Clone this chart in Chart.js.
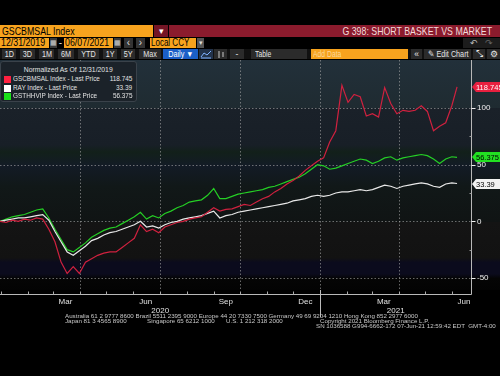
<!DOCTYPE html>
<html lang="en">
  <head>
    <meta charset="UTF-8" />
    <meta name="viewport" content="width=device-width, initial-scale=1.0" />
    <title>G 398: SHORT BASKET VS MARKET</title>
    <script src="https://cdn.jsdelivr.net/npm/chart.js@4.4.1/dist/chart.umd.min.js"></script>
    <style>
      body {
        margin: 0;
        width: 500px;
        height: 376px;
        overflow: hidden;
        background-color: #000;
        font-family: "Liberation Sans", Arial, sans-serif;
        position: relative;
      }
      .box {
        position: absolute;
        box-sizing: border-box;
        white-space: nowrap;
        overflow: hidden;
        z-index: 2;
      }
      .amber { background-color: #f7a31e; color: #000; }
      .row2 { top: 38px; height: 10px; font-size: 10px; line-height: 10px; }
      .row3 { top: 49px; height: 10px; font-size: 8.5px; line-height: 10px; color: #e6e6e6; text-align: center; }
      .btn { background-color: #2b2b2b; }
      .nl { display: inline-block; transform: scaleX(0.8); transform-origin: left center; }
      .nd { display: inline-block; transform: scaleX(0.88); transform-origin: left center; }
      .nc { display: inline-block; transform: scaleX(0.85); transform-origin: center center; }
      .nr { display: inline-block; transform: scaleX(0.8); transform-origin: right center; }
      .chart-container {
        position: absolute;
        left: 0;
        top: 60px;
        width: 500px;
        height: 316px;
        z-index: 1;
      }
      .legend {
        position: absolute;
        left: 0;
        top: 61px;
        width: 137px;
        height: 41px;
        box-sizing: border-box;
        background-color: #1b2229;
        border: 1px solid #3a424a;
        border-radius: 3px;
        color: #e2e2e2;
        font-size: 8px;
        line-height: 8.5px;
        z-index: 3;
      }
      .legend-title { text-align: center; margin-top: 4px; height: 9px; }
      .legend-row { position: relative; height: 8.5px; white-space: nowrap; }
      .sw { position: absolute; left: 3px; top: 1px; width: 7px; height: 7px; }
      .nm { position: absolute; left: 12px; top: 0; }
      .val { position: absolute; right: 4px; top: 0; }
      .footer {
        position: absolute;
        font-size: 6.2px;
        line-height: 6px;
        color: #c8c8c8;
        white-space: pre;
        z-index: 3;
      }
    </style>
  </head>
  <body>
    <!-- barra de titulo -->
    <div class="box amber" style="left:0;top:25px;width:153px;height:12px;font-size:11px;line-height:12px;padding-left:2px;"><span class="nl">GSCBMSAL Index</span></div>
    <div class="box" style="left:154px;top:25px;width:14px;height:12px;background:#741525;color:#fff;font-size:9px;line-height:12px;text-align:center;">▾</div>
    <div class="box" style="left:169px;top:25px;width:331px;height:12px;background:#8b1b2d;color:#f2dcdc;font-size:11px;line-height:12px;text-align:right;padding-right:8px;"><span class="nr">G 398: SHORT BASKET VS MARKET</span></div>

    <!-- fechas -->
    <div class="box amber row2" style="left:0;width:49px;padding-left:1px;"><span class="nd">12/31/2019</span></div>
    <div class="box row2" style="left:50px;width:7px;background:#3a3a3a;color:#ccc;font-size:7px;text-align:center;">▦</div>
    <div class="box row2" style="left:57px;width:7px;color:#ddd;text-align:center;">-</div>
    <div class="box amber row2" style="left:64px;width:49px;padding-left:1px;"><span class="nd">06/07/2021</span></div>
    <div class="box row2" style="left:114px;width:7px;background:#3a3a3a;color:#ccc;font-size:7px;text-align:center;">▦</div>
    <div class="box row2" style="left:124px;width:9px;background:#333;color:#ddd;text-align:center;">‹</div>
    <div class="box row2" style="left:136px;width:9px;background:#333;color:#ddd;text-align:center;">›</div>
    <div class="box amber row2" style="left:150px;width:46px;padding-left:1px;"><span class="nl">Local CCY</span></div>
    <div class="box row2" style="left:197px;width:7px;background:#555;color:#ddd;font-size:7px;text-align:center;">▾</div>
    <div class="box row2" style="left:463px;width:37px;background:#1c1c1c;color:#bbb;font-size:9px;text-align:center;">↶&nbsp;&nbsp;&nbsp;<span style="color:#666">↷</span></div>

    <!-- botones -->
    <div class="box" style="left:0;top:49px;width:500px;height:10px;background:#111;"></div>
    <div class="box row3 btn" style="left:2px;width:14px;"><span class="nc">1D</span></div>
    <div class="box row3 btn" style="left:20px;width:15px;"><span class="nc">3D</span></div>
    <div class="box row3 btn" style="left:39px;width:15px;"><span class="nc">1M</span></div>
    <div class="box row3 btn" style="left:58px;width:16px;"><span class="nc">6M</span></div>
    <div class="box row3 btn" style="left:78px;width:21px;"><span class="nc">YTD</span></div>
    <div class="box row3 btn" style="left:103px;width:14px;"><span class="nc">1Y</span></div>
    <div class="box row3 btn" style="left:121px;width:14px;"><span class="nc">5Y</span></div>
    <div class="box row3 btn" style="left:139px;width:22px;"><span class="nc">Max</span></div>
    <div class="box row3" style="left:163px;width:35px;background:#1b5fc8;color:#fff;"><span class="nc">Daily ▼</span></div>
    <div class="box row3" style="left:199px;width:14px;background:#22324a;">
      <svg width="12" height="9" style="margin-top:1px"><polyline points="1,7 4,3 7,5 11,1" fill="none" stroke="#7fb2ff" stroke-width="1"/><line x1="1" y1="8" x2="11" y2="8" stroke="#7fb2ff"/></svg>
    </div>
    <div class="box row3 btn" style="left:214px;width:13px;">
      <svg width="10" height="9" style="margin-top:1px"><line x1="3" y1="1" x2="3" y2="8" stroke="#ccc"/><line x1="7" y1="2" x2="7" y2="7" stroke="#ccc"/></svg>
    </div>
    <div class="box row3 btn" style="left:230px;width:14px;">-</div>
    <div class="box row3 btn" style="left:251px;width:56px;text-align:left;padding-left:4px;"><span class="nl">Table</span></div>
    <div class="box row3 amber" style="left:311px;width:97px;text-align:left;padding-left:2px;color:#fbd89a;"><span class="nl">Add Data</span></div>
    <div class="box row3 btn" style="left:411px;width:11px;">«</div>
    <div class="box row3 btn" style="left:424px;width:47px;"><span class="nc">✎ Edit Chart</span></div>
    <div class="box row3 btn" style="left:473px;width:12px;">⤡</div>
    <div class="box row3 btn" style="left:487px;width:13px;">⚙</div>

    <!-- leyenda -->
    <div class="legend">
      <div class="legend-title"><span class="nc">Normalized As Of 12/31/2019</span></div>
      <div class="legend-row"><span class="sw" style="background:#ff2040"></span><span class="nm nl">GSCBMSAL Index - Last Price</span><span class="val nr">118.745</span></div>
      <div class="legend-row"><span class="sw" style="background:#ffffff"></span><span class="nm nl">RAY Index - Last Price</span><span class="val nr">33.39</span></div>
      <div class="legend-row"><span class="sw" style="background:#19e019"></span><span class="nm nl">GSTHHVIP Index - Last Price</span><span class="val nr">56.375</span></div>
    </div>

    <div class="chart-container">
      <canvas id="myChart"></canvas>
    </div>

    <!-- pie de pagina -->
    <div class="footer" style="left:65px;top:313px;">Australia 61 2 9777 8600 Brazil 5511 2395 9000 Europe 44 20 7330 7500 Germany 49 69 9204 1210 Hong Kong 852 2977 6000</div>
    <div class="footer" style="left:65px;top:318px;">Japan 81 3 4565 8900</div>
    <div class="footer" style="left:147px;top:318px;">Singapore 65 6212 1000</div>
    <div class="footer" style="left:226px;top:318px;">U.S. 1 212 318 2000</div>
    <div class="footer" style="left:320px;top:318px;">Copyright 2021 Bloomberg Finance L.P.</div>
    <div class="footer" style="left:316px;top:323px;">SN 1036588 G994-6662-172 07-Jun-21 12:59:42 EDT  GMT-4:00</div>

    <script>
      // Fechas: muestras semanales desde la fecha de normalizacion
      const startDate = "2019-12-31";
      const endDate = "2021-06-07";
      const dayOf = (s) => (Date.parse(s) - Date.parse(startDate)) / 86400000;

      const sampleDays = [];
      for (let d = 0; d <= 518; d += 7) sampleDays.push(d);
      sampleDays.push(dayOf(endDate));

      // Series normalizadas
      const gscbmsal = [
        0, -1, 1, 0, 2, 1, 3, 2,
        -7, -18, -36, -46, -40, -46, -36, -33,
        -30, -28, -27, -27, -23, -19, -15, -3,
        -9, -7, -10, -5, -3, -1, 0, 2,
        3, 4, 8, 12, 9, 10.5, 11, 13,
        15, 14, 17, 20, 22, 26, 29, 33,
        36, 40, 45, 49, 53, 56, 70, 80,
        120, 105, 112, 110, 93, 95, 92, 118,
        104, 95, 98, 97, 98, 102, 97, 80,
        84, 87, 102, 118.745,
      ];
      const ray = [
        0, 1, 2, 3, 3, 4, 5, 6,
        1, -9, -18, -27, -30, -26, -22, -17,
        -15, -12, -10, -9, -7, -5, -3, 0,
        -5, -4, -6, -3, -1, 0, 2, 3,
        4, 5, 7, 9, 3, 5, 6, 8,
        9, 10, 11, 12, 13, 14, 15, 16,
        18, 19, 20, 22, 23, 22, 23, 25,
        26, 26, 27, 28, 27, 28, 30, 32,
        31, 29, 31, 32, 33, 34, 33, 31,
        30, 33, 34, 33.39,
      ];
      const gsthhvip = [
        0, 2, 4, 5, 6, 8, 10, 11,
        3, -7, -16, -25, -27, -23, -19, -14,
        -11, -8, -6, -5, -2, 1, 4, 8,
        2, 5, 3, 7, 9, 12, 14, 17,
        18, 19, 23, 29, 20, 20, 22, 24,
        25, 26, 27, 28, 30, 31, 33, 35,
        37, 39, 42, 46, 50, 49, 46, 47,
        49, 51, 53, 55, 54, 51, 53, 56,
        57, 54, 56, 57, 58, 59, 58, 55,
        51, 55, 57, 56.375,
      ];

      const seriesNames = ["GSCBMSAL Index", "RAY Index", "GSTHHVIP Index"];
      const lastLabels = ["118.745", "33.39", "56.375"];

      // Ejes
      const yTicks = [-50, 0, 50, 100];
      const yMinorTicks = [-25, 25, 75];
      const monthLabels = ["Mar", "Jun", "Sep", "Dec", "Mar", "Jun"];
      const monthLabelDates = ["2020-03-15", "2020-06-15", "2020-09-15", "2020-12-15", "2021-03-15", "2021-06-15"];
      const quarterDates = ["2020-04-01", "2020-07-01", "2020-10-01", "2021-01-01", "2021-04-01"];
      const yearLabels = ["2020", "2021"];
      const yearBreak = "2021-01-01";

      const toPoints = (values) => values.map((v, i) => ({ x: sampleDays[i], y: v }));

      const tagColors = [
        { bg: "#e8203f", fg: "#ffffff" },
        { bg: "#f2f2f2", fg: "#000000" },
        { bg: "#22e022", fg: "#000000" },
      ];

      // Fondo, rejilla punteada, ejes y etiquetas de ultimo valor
      const terminalDecor = {
        id: "terminalDecor",
        beforeDraw(chart) {
          const { ctx, chartArea: area } = chart;
          const g = ctx.createLinearGradient(0, area.top, 0, area.bottom);
          g.addColorStop(0, "#22303a");
          g.addColorStop(0.209, "#1f2b31");
          g.addColorStop(0.21, "#1a2129");
          g.addColorStop(0.37, "#181f27");
          g.addColorStop(0.4, "#12201a");
          g.addColorStop(0.46, "#131b26");
          g.addColorStop(0.55, "#111818");
          g.addColorStop(0.703, "#101414");
          g.addColorStop(0.705, "#141414");
          g.addColorStop(0.86, "#121212");
          g.addColorStop(0.88, "#0b0b1d");
          g.addColorStop(0.93, "#0b0b1d");
          g.addColorStop(0.95, "#050505");
          g.addColorStop(1, "#030303");
          ctx.save();
          ctx.fillStyle = g;
          ctx.fillRect(0, area.top, chart.width, area.bottom - area.top);
          ctx.restore();
        },
        beforeDatasetsDraw(chart) {
          const { ctx, chartArea: area, scales } = chart;
          ctx.save();
          ctx.strokeStyle = "rgba(170,170,170,0.6)";
          ctx.lineWidth = 1;
          ctx.setLineDash([1.5, 2]);
          yTicks.forEach((v) => {
            const py = Math.round(scales.y.getPixelForValue(v)) + 0.5;
            ctx.beginPath();
            ctx.moveTo(area.left, py);
            ctx.lineTo(area.right, py);
            ctx.stroke();
          });
          quarterDates.forEach((d) => {
            const px = Math.round(scales.x.getPixelForValue(dayOf(d))) + 0.5;
            ctx.beginPath();
            ctx.moveTo(px, area.top);
            ctx.lineTo(px, area.bottom);
            ctx.stroke();
          });
          ctx.restore();
        },
        afterDraw(chart) {
          const { ctx, chartArea: area, scales } = chart;
          ctx.save();
          ctx.setLineDash([]);
          ctx.strokeStyle = "#b8b8b8";
          ctx.lineWidth = 1;
          const ax = Math.round(area.right) + 0.5;
          const by = Math.round(area.bottom) + 4.5;
          ctx.beginPath();
          ctx.moveTo(ax, area.top);
          ctx.lineTo(ax, by);
          ctx.lineTo(area.left, by);
          ctx.stroke();

          // marcas del eje y
          ctx.strokeStyle = "#f0f0f0";
          yTicks.forEach((v) => {
            const py = Math.round(scales.y.getPixelForValue(v)) + 0.5;
            ctx.beginPath();
            ctx.moveTo(ax, py);
            ctx.lineTo(ax + 4, py);
            ctx.stroke();
          });
          ctx.strokeStyle = "#999";
          yMinorTicks.forEach((v) => {
            const py = Math.round(scales.y.getPixelForValue(v)) + 0.5;
            ctx.beginPath();
            ctx.moveTo(ax - 2, py);
            ctx.lineTo(ax, py);
            ctx.stroke();
          });

          // marcas mensuales del eje x
          ctx.strokeStyle = "#aaa";
          for (let m = 0; m < 18; m++) {
            const d = (Date.UTC(2020, m, 1) - Date.parse(startDate)) / 86400000;
            const px = Math.round(scales.x.getPixelForValue(d)) + 0.5;
            ctx.beginPath();
            ctx.moveTo(px, by - 3);
            ctx.lineTo(px, by);
            ctx.stroke();
          }

          // separador de años
          const bx = Math.round(scales.x.getPixelForValue(dayOf(yearBreak))) + 0.5;
          ctx.strokeStyle = "#bbb";
          ctx.beginPath();
          ctx.moveTo(bx, area.bottom);
          ctx.lineTo(bx, area.bottom + 27);
          ctx.stroke();

          ctx.fillStyle = "#e0e0e0";
          ctx.font = '8px "Liberation Sans", Arial, sans-serif';
          ctx.textAlign = "center";
          ctx.textBaseline = "middle";
          const yearMids = [
            (scales.x.getPixelForValue(scales.x.min) + bx) / 2,
            (bx + scales.x.getPixelForValue(scales.x.max)) / 2,
          ];
          yearLabels.forEach((t, i) => ctx.fillText(t, yearMids[i], area.bottom + 21));

          // etiquetas del ultimo valor
          ctx.font = '7.5px "Liberation Sans", Arial, sans-serif';
          ctx.textAlign = "left";
          chart.data.datasets.forEach((ds, i) => {
            const meta = chart.getDatasetMeta(i);
            const pt = meta.data[meta.data.length - 1];
            const py = Math.round(pt.y);
            const x0 = area.right + 1;
            const h = 10;
            ctx.fillStyle = tagColors[i].bg;
            ctx.beginPath();
            ctx.moveTo(x0, py);
            ctx.lineTo(x0 + 4, py - h / 2);
            ctx.lineTo(chart.width, py - h / 2);
            ctx.lineTo(chart.width, py + h / 2);
            ctx.lineTo(x0 + 4, py + h / 2);
            ctx.closePath();
            ctx.fill();
            ctx.fillStyle = tagColors[i].fg;
            ctx.fillText(lastLabels[i], x0 + 4, py + 0.5);
          });
          ctx.restore();
        },
      };

      const generateChart = () => {
        const ctx = document.getElementById("myChart").getContext("2d");
        new Chart(ctx, {
          type: "line",
          data: {
            datasets: [
              { label: seriesNames[0], data: toPoints(gscbmsal), borderColor: "#d0213f" },
              { label: seriesNames[1], data: toPoints(ray), borderColor: "#e8e8e8" },
              { label: seriesNames[2], data: toPoints(gsthhvip), borderColor: "#25cf25" },
            ],
          },
          options: {
            responsive: true,
            maintainAspectRatio: false,
            animation: false,
            events: [],
            layout: { padding: 0 },
            elements: {
              point: { radius: 0 },
              line: { borderWidth: 1.2, tension: 0 },
            },
            plugins: {
              legend: { display: false },
              tooltip: { enabled: false },
            },
            scales: {
              x: {
                type: "linear",
                min: 0,
                max: 540,
                grid: { display: false, drawTicks: false },
                border: { display: false },
                ticks: {
                  color: "#e0e0e0",
                  font: { family: "Liberation Sans", size: 8 },
                  padding: 7,
                  maxRotation: 0,
                  autoSkip: false,
                  callback: (v, i) => monthLabels[i],
                },
                afterBuildTicks: (s) => {
                  s.ticks = monthLabelDates.map((d) => ({ value: dayOf(d) }));
                },
                afterFit: (s) => {
                  s.height = 86;
                  s.paddingLeft = 0;
                  s.paddingRight = 0;
                },
              },
              y: {
                type: "linear",
                position: "right",
                min: -60.6,
                max: 142.4,
                grid: { display: false, drawTicks: false },
                border: { display: false },
                ticks: {
                  color: "#f0f0f0",
                  font: { family: "Liberation Sans", size: 8 },
                  padding: 6,
                },
                afterBuildTicks: (s) => {
                  s.ticks = yTicks.map((v) => ({ value: v }));
                },
                afterFit: (s) => {
                  s.width = 29;
                  s.paddingTop = 0;
                  s.paddingBottom = 0;
                },
              },
            },
          },
          plugins: [terminalDecor],
        });
      };

      document.addEventListener("DOMContentLoaded", generateChart);
    </script>
  </body>
</html>
